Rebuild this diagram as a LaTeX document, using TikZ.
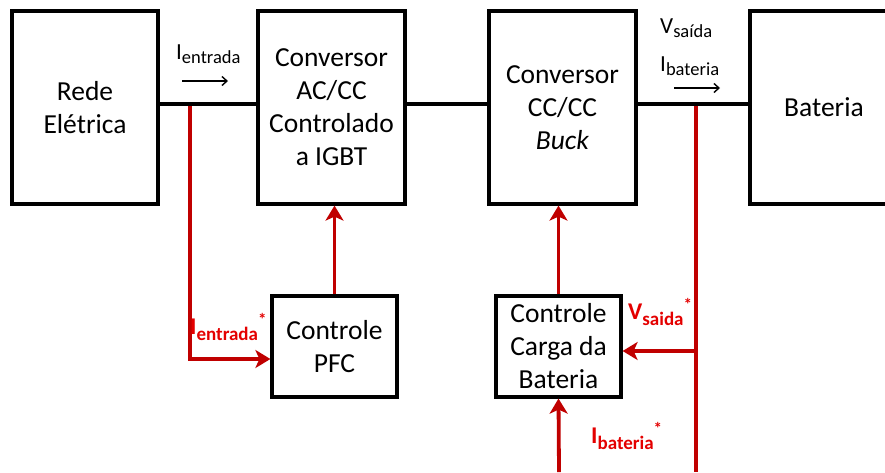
\documentclass[tikz,border=0pt]{standalone}
\usepackage{fontspec}
\setmainfont{Carlito}
\usetikzlibrary{arrows.meta}
\definecolor{sigline}{RGB}{192,0,0}
\definecolor{sigtext}{RGB}{228,0,0}

% black measured quantity: I_sub
\newcommand{\measq}[3]{{\fontsize{#1}{#1}\selectfont #2}\raisebox{-4pt}{\fontsize{18.5}{18.5}\selectfont #3}}
% red reference quantity: I_sub^*
\newcommand{\refq}[2]{\bfseries{\fontsize{24}{24}\selectfont #1}\raisebox{-6pt}{\fontsize{19}{19}\selectfont #2}\raisebox{9pt}{\fontsize{17}{17}\selectfont *}}

\begin{document}
\begin{tikzpicture}[x=1pt,y=-1pt,
  block/.style={draw=black, line width=3.2pt, fill=white, align=center,
    font=\fontsize{27.5}{33}\selectfont, inner sep=0pt},
  bus/.style={draw=black, line width=3.6pt},
  sig/.style={draw=sigline, line width=3.8pt},
  sigarrow/.style={sig, -{Stealth[length=15pt,width=18pt,inset=4pt]}},
  flow/.style={draw=black, line width=1.4pt, -{Straight Barb[length=5pt,width=9pt]}},
  lbl/.style={anchor=base west, inner sep=0pt},
  siglbl/.style={lbl, text=sigtext}]

\useasboundingbox (0,0) rectangle (885,472);
\fill[white] (0,0) rectangle (885,472);

% power path blocks
\node[block, minimum width=146pt, minimum height=193pt] (rede) at (85,107.5) {Rede\\Elétrica};
\node[block, minimum width=147pt, minimum height=193pt] (acdc) at (331.5,107.5) {Conversor\\AC/CC\\Controlado\\a IGBT};
\node[block, minimum width=147pt, minimum height=193pt] (buck) at (562.5,107.5) {Conversor\\CC/CC\\\textit{Buck}};
\node[block, minimum width=148pt, minimum height=193pt] (bat) at (824,107.5) {Bateria};

% control blocks
\node[block, minimum width=125pt, minimum height=101pt] (pfc) at (334.5,346.5) {Controle\\PFC};
\node[block, minimum width=125pt, minimum height=101pt] (carga) at (558.5,346.5) {Controle\\Carga da\\Bateria};

% power connections
\draw[bus] ([yshift=3.5pt]rede.east) -- ([yshift=3.5pt]acdc.west);
\draw[bus] ([yshift=3.5pt]acdc.east) -- ([yshift=3.5pt]buck.west);
\draw[bus] ([yshift=3.5pt]buck.east) -- ([yshift=3.5pt]bat.west);

% measurement taps
\coordinate (tapin) at (190,106);
\coordinate (tapout) at (696,106);
\coordinate (vtap) at (696,351);
\coordinate (vend) at (696,472);
\coordinate (iref) at (559,472);

\draw[sigarrow] (tapin) |- ([yshift=-12.5pt]pfc.west);
\draw[sigarrow] (pfc.north) -- (pfc.north |- acdc.south);
\draw[sig] (tapout) -- (vend);
\draw[sigarrow] (vtap) -- (vtap -| carga.east);
\draw[sigarrow] (iref) -- (carga.south);
\draw[sigarrow] (carga.north) -- (carga.north |- buck.south);

% current direction arrows
\coordinate (fin1) at (182,81);
\coordinate (fin2) at (228,81);
\coordinate (fout1) at (674,88);
\coordinate (fout2) at (720,88);
\draw[flow] (fin1) -- (fin2);
\draw[flow] (fout1) -- (fout2);

% measured quantities
\node[lbl] (lin) at (176,59) {\measq{23}{I}{entrada}};
\node[lbl] (lvs) at (660,33) {\measq{23}{V}{saída}};
\node[lbl] (lib) at (660,71) {\measq{23}{I}{bateria}};

% references
\node[siglbl] (rin) at (190,334) {\refq{I}{entrada}};
\node[siglbl] (rvs) at (628,319) {\refq{V}{saida}};
\node[siglbl] (rib) at (591,443) {\refq{I}{bateria}};
\end{tikzpicture}
\end{document}
